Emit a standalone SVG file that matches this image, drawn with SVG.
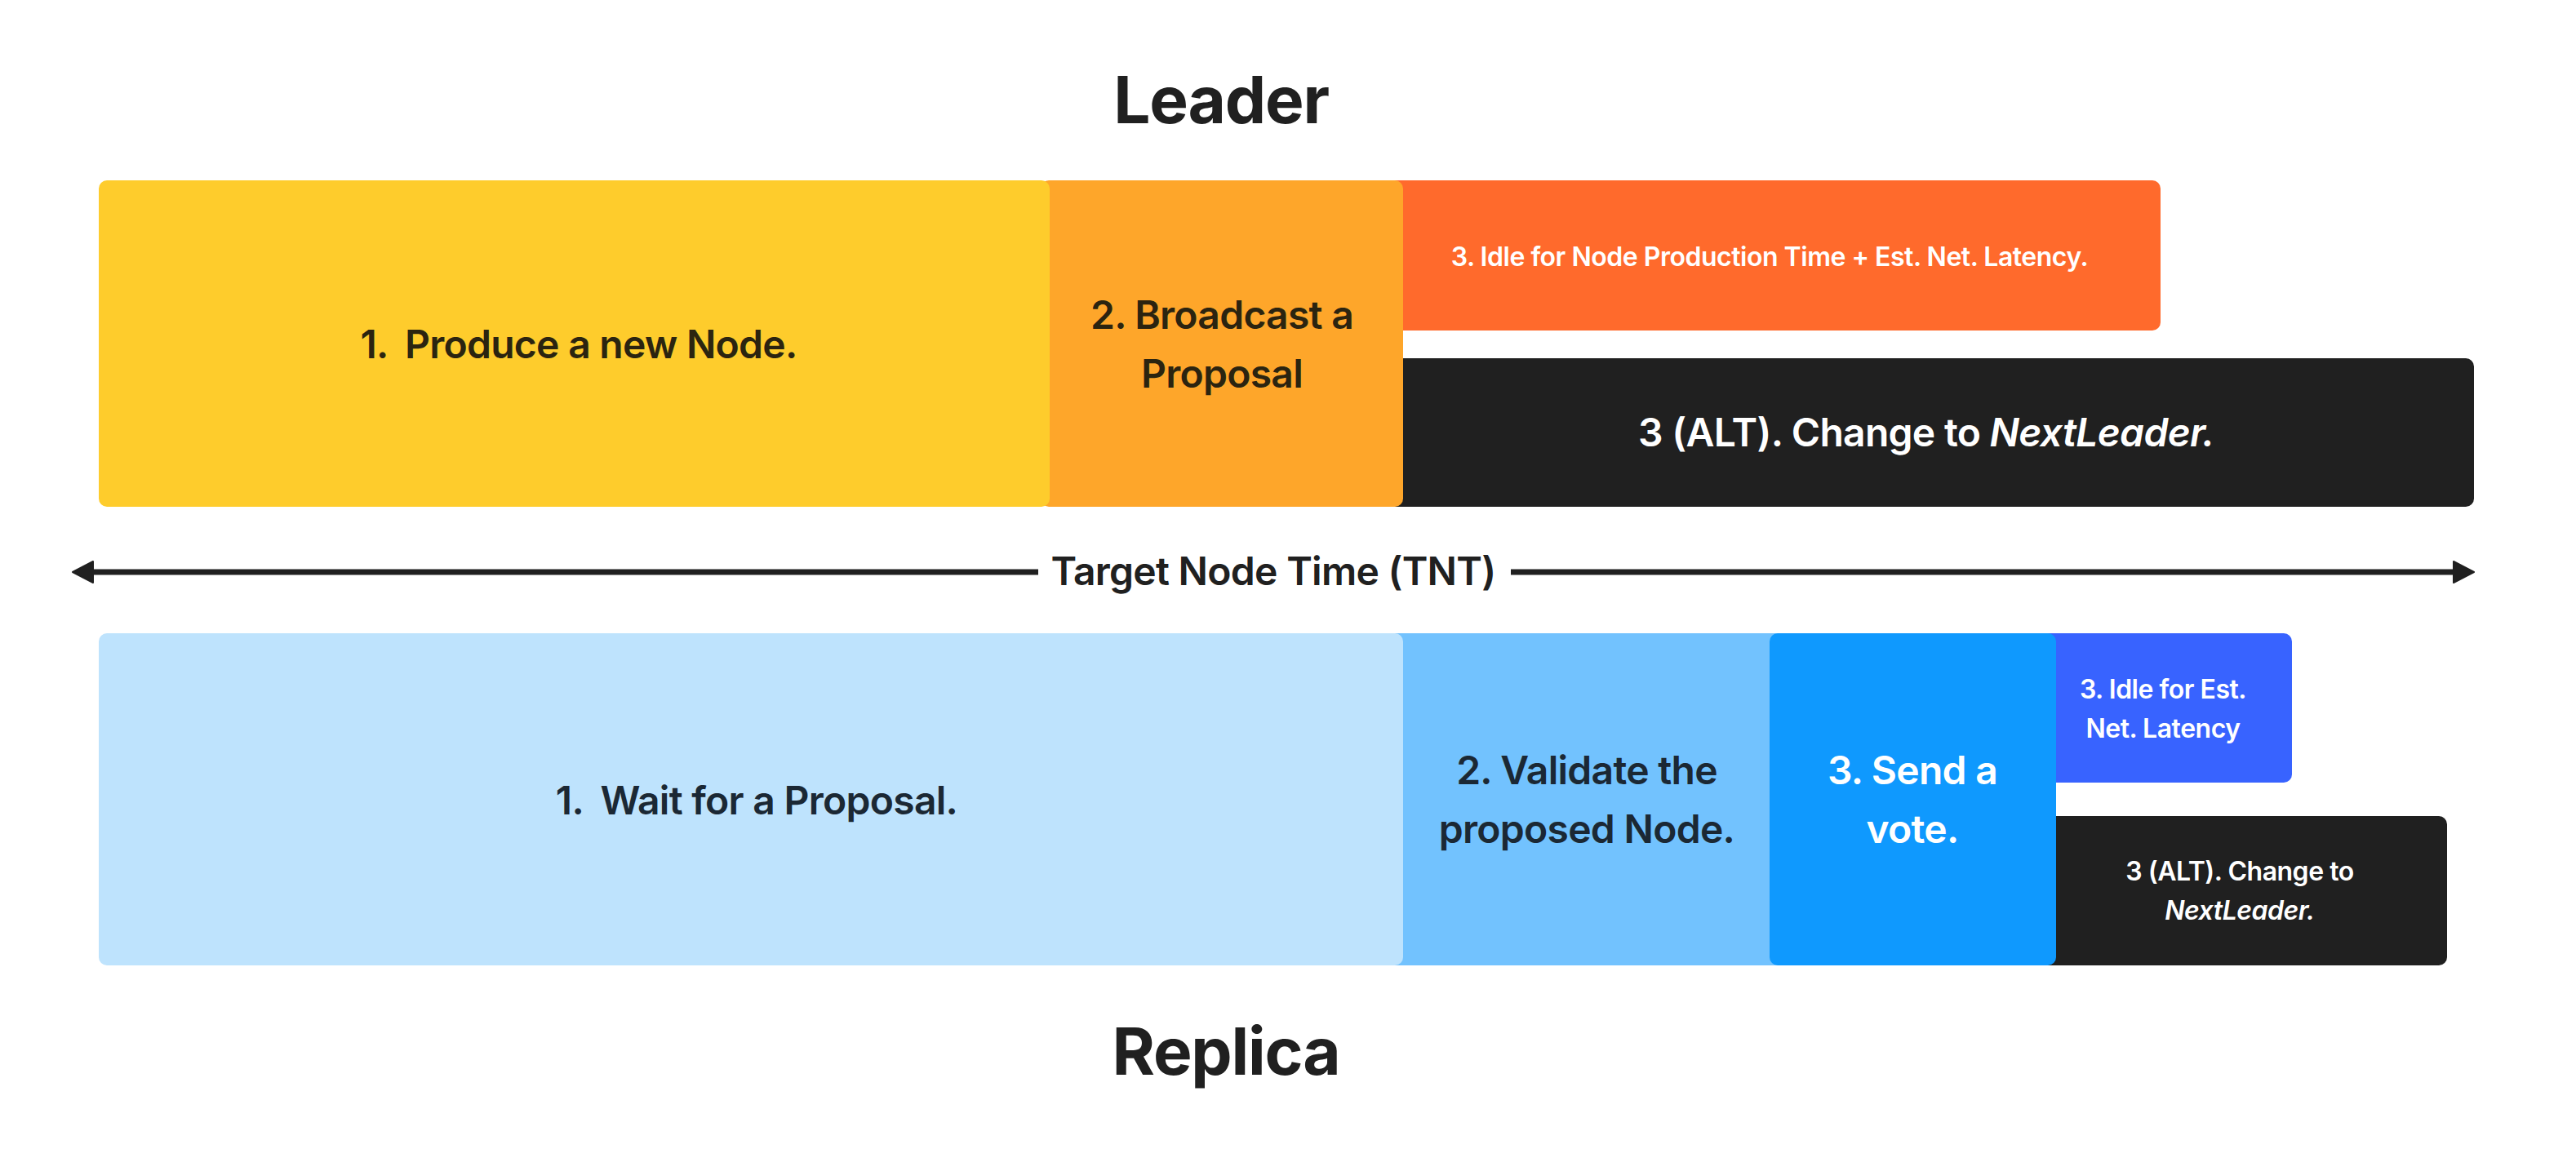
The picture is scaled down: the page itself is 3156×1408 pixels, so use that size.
<svg xmlns="http://www.w3.org/2000/svg" width="3156" height="1408" viewBox="0 0 3156 1408">
  <style>
    text { font-family: Inter, "Noto Sans", "Liberation Sans", sans-serif; text-anchor: middle; letter-spacing: -0.015em; }
    .title { font-size: 80px; font-weight: 700; fill: #202020; }
    .lbl { font-size: 48px; font-weight: 600; }
    .sm { font-size: 32px; font-weight: 600; }
    .dkL { fill: #2b2410; }
    .dkR { fill: #1b2834; }
    .wt { fill: #ffffff; }
    .conn { stroke: #202020; stroke-width: 7; fill: none; }
  </style>
  <defs>
    <marker id="ah" viewBox="0 0 27 30" refX="3" refY="15" markerWidth="27" markerHeight="30" markerUnits="userSpaceOnUse" orient="auto-start-reverse">
      <path d="M1,2 L26,15 L1,28 Z" fill="#202020" stroke="#202020" stroke-width="2" stroke-linejoin="round"/>
    </marker>
  </defs>

  <text class="title" x="1496" y="151">Leader</text>
  <text class="title" x="1502" y="1317">Replica</text>

  <!-- Leader row -->
  <g id="leader-idle">
    <rect x="1690" y="221" width="957" height="184" rx="10" fill="#ff6a2c"/>
    <text class="sm wt" x="2168" y="326">3. Idle for Node Production Time + Est. Net. Latency.</text>
  </g>
  <g id="leader-alt">
    <rect x="1690" y="439" width="1341" height="182" rx="10" fill="#202020"/>
    <text class="lbl wt" x="2360" y="547">3 (ALT). Change to <tspan font-style="italic">NextLeader.</tspan></text>
  </g>
  <g id="leader-broadcast">
    <rect x="1275" y="221" width="444" height="400" rx="10" fill="#fea62a"/>
    <text class="lbl dkL" x="1497" y="403">2. Broadcast a</text>
    <text class="lbl dkL" x="1497" y="475">Proposal</text>
  </g>
  <g id="leader-produce">
    <rect x="121" y="221" width="1165" height="400" rx="10" fill="#fecc2c"/>
    <text class="lbl dkL" x="709" y="439">1. <tspan dx="10">Produce a new Node.</tspan></text>
  </g>

  <!-- Connector -->
  <g id="connectors">
    <line class="conn" x1="112" y1="701" x2="1272" y2="701" marker-start="url(#ah)"/>
    <line class="conn" x1="1851" y1="701" x2="3008" y2="701" marker-end="url(#ah)"/>
    <text class="lbl" x="1560" y="717" fill="#202020">Target Node Time (TNT)</text>
  </g>

  <!-- Replica row -->
  <g id="replica-idle">
    <rect x="2489" y="776" width="319" height="183" rx="10" fill="#3863ff"/>
    <text class="sm wt" x="2650" y="856">3. Idle for Est.</text>
    <text class="sm wt" x="2650" y="904">Net. Latency</text>
  </g>
  <g id="replica-alt">
    <rect x="2489" y="1000" width="509" height="183" rx="10" fill="#202020"/>
    <text class="sm wt" x="2744" y="1079">3 (ALT). Change to</text>
    <text class="sm wt" x="2744" y="1127" font-style="italic">NextLeader.</text>
  </g>
  <g id="replica-validate">
    <rect x="1689" y="776" width="509" height="407" rx="10" fill="#72c2fe"/>
    <text class="lbl dkR" x="1944" y="961">2. Validate the</text>
    <text class="lbl dkR" x="1944" y="1033">proposed Node.</text>
  </g>
  <g id="replica-vote">
    <rect x="2168" y="776" width="351" height="407" rx="10" fill="#0f99fe"/>
    <text class="lbl wt" x="2343" y="961">3. Send a</text>
    <text class="lbl wt" x="2343" y="1033">vote.</text>
  </g>
  <g id="replica-wait">
    <rect x="121" y="776" width="1598" height="407" rx="10" fill="#bee3fd"/>
    <text class="lbl dkR" x="927" y="998">1. <tspan dx="10">Wait for a Proposal.</tspan></text>
  </g>
</svg>
